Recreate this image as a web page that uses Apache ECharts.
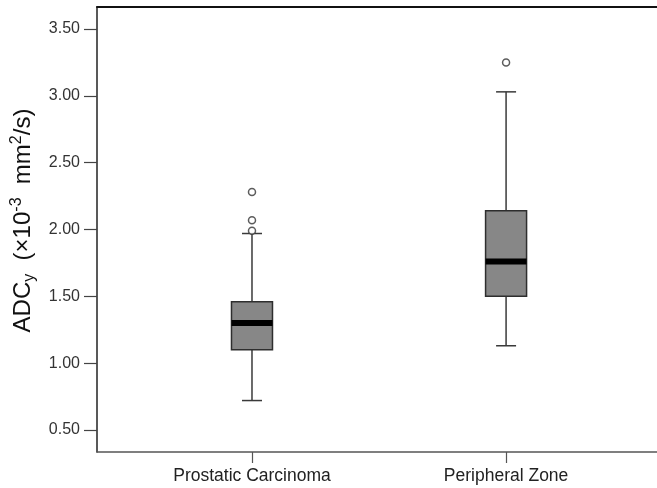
<!DOCTYPE html>
<html>
<head>
<meta charset="utf-8">
<script src="https://cdn.jsdelivr.net/npm/echarts@6/dist/echarts.min.js"></script>
<style>
  html, body { margin: 0; padding: 0; background: #fff; }
  #chart { width: 657px; height: 488px; }
</style>
</head>
<body>
<div id="chart"></div>
<script>
// box plot summaries (x10^-3 mm^2/s)
const categories = ['Prostatic Carcinoma', 'Peripheral Zone']
const whiskerLow = [0.72, 1.13]
const q1 = [1.10, 1.50]
const median = [1.30, 1.76]
const q3 = [1.46, 2.14]
const whiskerHigh = [1.97, 3.03]
// [category position, value]
const outliers = [[1, 2.28], [1, 2.07], [1, 1.99], [2, 3.25]]
const yTicks = [0.5, 1.0, 1.5, 2.0, 2.5, 3.0, 3.5]

const font = 'Liberation Sans, Arial, sans-serif'

const boxData = categories.map((c, i) => [i + 1, whiskerLow[i], q1[i], median[i], q3[i], whiskerHigh[i]])

function renderBox (params, api) {
  const x = api.value(0)
  const pLow = api.coord([x, api.value(1)])
  const pQ1 = api.coord([x, api.value(2)])
  const pMed = api.coord([x, api.value(3)])
  const pQ3 = api.coord([x, api.value(4)])
  const pHigh = api.coord([x, api.value(5)])
  const cx = pLow[0]
  const hw = 20.5
  const cap = 10
  const lineStyle = { stroke: '#3a3a3a', lineWidth: 1.5 }
  return {
    type: 'group',
    children: [
      { type: 'line', shape: { x1: cx, y1: pLow[1], x2: cx, y2: pQ1[1] }, style: lineStyle },
      { type: 'line', shape: { x1: cx, y1: pQ3[1], x2: cx, y2: pHigh[1] }, style: lineStyle },
      { type: 'line', shape: { x1: cx - cap, y1: pLow[1], x2: cx + cap, y2: pLow[1] }, style: lineStyle },
      { type: 'line', shape: { x1: cx - cap, y1: pHigh[1], x2: cx + cap, y2: pHigh[1] }, style: lineStyle },
      {
        type: 'rect',
        shape: { x: cx - hw, y: pQ3[1], width: hw * 2, height: pQ1[1] - pQ3[1] },
        style: { fill: '#878787', stroke: '#2e2e2e', lineWidth: 1.5 }
      },
      { type: 'line', shape: { x1: cx - hw, y1: pMed[1], x2: cx + hw, y2: pMed[1] }, style: { stroke: '#000', lineWidth: 6 } }
    ]
  }
}

const chart = echarts.init(document.getElementById('chart'), null, { renderer: 'canvas' })
chart.setOption({
  backgroundColor: '#fff',
  animation: false,
  grid: { left: 97, right: 0, top: 7, bottom: 36 },
  xAxis: [{
    type: 'value',
    min: 0.39,
    max: 2.594,
    axisLine: { show: true, lineStyle: { color: '#555', width: 1.5 } },
    axisTick: { show: true, customValues: [1, 2], length: 11, lineStyle: { color: '#555', width: 1.2 } },
    axisLabel: {
      customValues: [1, 2],
      formatter: v => categories[Math.round(v) - 1] || '',
      color: '#222',
      fontFamily: font,
      fontSize: 17.5,
      margin: 15
    },
    splitLine: { show: false }
  }, {
    type: 'value',
    position: 'top',
    min: 0.39,
    max: 2.594,
    axisLine: { show: true, onZero: false, lineStyle: { color: '#111', width: 2 } },
    axisTick: { show: false },
    axisLabel: { show: false },
    splitLine: { show: false }
  }],
  yAxis: {
    type: 'value',
    min: 0.335,
    max: 3.665,
    axisLine: { show: true, lineStyle: { color: '#222', width: 1.5 } },
    axisTick: { show: true, customValues: yTicks, length: 13, lineStyle: { color: '#444', width: 1.2 } },
    axisLabel: {
      customValues: yTicks,
      formatter: v => v.toFixed(2),
      color: '#333',
      fontFamily: font,
      fontSize: 16,
      margin: 17
    },
    splitLine: { show: false },
    name: '{m|ADC}{sub|y}{m|  (×10}{sup|-3}{m|  mm}{sup|2}{m|/s)}',
    nameLocation: 'middle',
    nameGap: 57,
    nameTextStyle: {
      padding: [0, 0, 0, 18],
      rich: {
        m: { fontFamily: font, fontSize: 24, color: '#111', lineHeight: 29 },
        sub: { fontFamily: font, fontSize: 16, color: '#111', lineHeight: 15, verticalAlign: 'bottom' },
        sup: { fontFamily: font, fontSize: 16, color: '#111', lineHeight: 15, verticalAlign: 'top' }
      }
    }
  },
  series: [{
    type: 'custom',
    renderItem: renderBox,
    encode: { x: 0, y: [1, 2, 3, 4, 5] },
    data: boxData,
    z: 2
  }, {
    type: 'scatter',
    data: outliers,
    symbol: 'circle',
    symbolSize: 7,
    itemStyle: { color: '#fff', borderColor: '#333', borderWidth: 1.5 },
    z: 3
  }]
})
</script>
</body>
</html>
